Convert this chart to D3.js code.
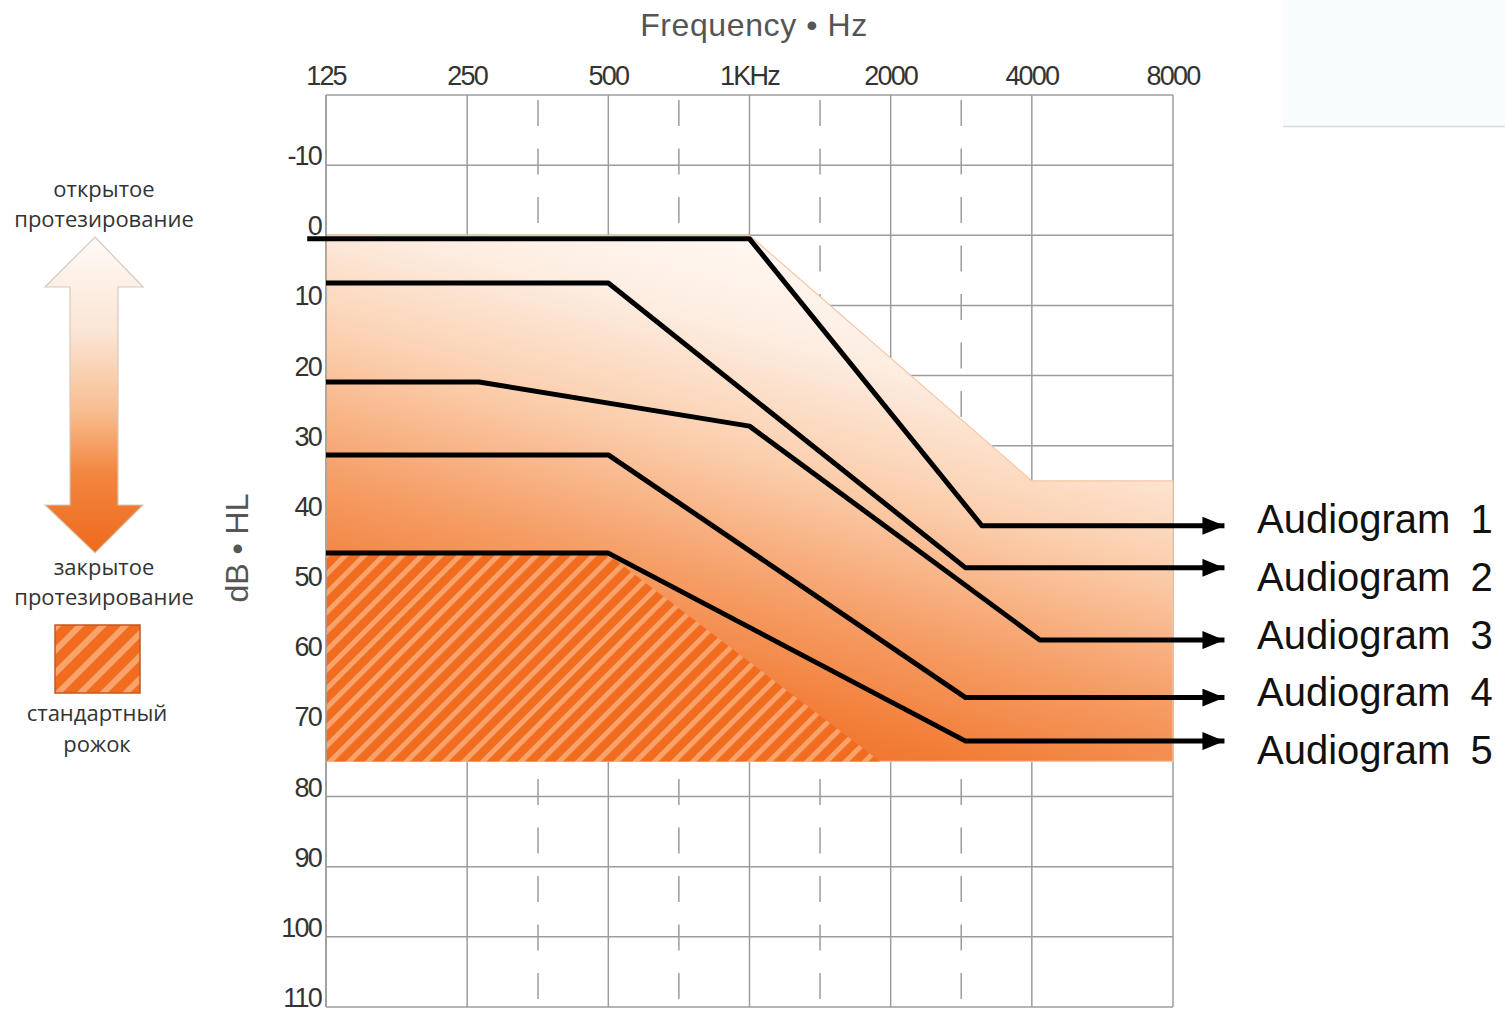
<!DOCTYPE html>
<html>
<head>
<meta charset="utf-8">
<script src="https://cdn.jsdelivr.net/npm/d3@7"></script>
<style>
  html, body { margin: 0; padding: 0; background: #fff; }
  svg { display: block; }
</style>
</head>
<body>
<svg id="chart" width="1505" height="1011"></svg>
<script>
// ── Data ────────────────────────────────────────────────────────────────
const freqTicks   = [125, 250, 500, 1000, 2000, 4000, 8000];
const freqLabels  = ['125', '250', '500', '1KHz', '2000', '4000', '8000'];
const halfOctaves = [354, 707, 1414, 2828];
const dbTicks     = [-10, 0, 10, 20, 30, 40, 50, 60, 70, 80, 90, 100, 110];

// open-fit region (gradient) and standard-earmold region (hatched)
const openTop  = [[125, 0], [1000, 0], [4000, 35], [8000, 35]];
const openBase = 75;
const hornTop  = [[125, 45.5], [500, 45.5], [1900, 75]];

// audiogram polylines [Hz, dB]; each ends with an arrow out to the label
const audiogram1 = [[114, 0.5], [1000, 0.5], [3130, 41.4]];
const audiogram2 = [[125, 6.8], [500, 6.8], [2890, 47.4]];
const audiogram3 = [[125, 20.9], [265, 20.9], [1000, 27.2], [4160, 57.7]];
const audiogram4 = [[125, 31.3], [500, 31.3], [2890, 65.9]];
const audiogram5 = [[125, 45.3], [500, 45.3], [2890, 72.1]];
const audiograms = [audiogram1, audiogram2, audiogram3, audiogram4, audiogram5];
const arrowFreq  = 10300;
const labelNames = ['Audiogram 1', 'Audiogram 2', 'Audiogram 3', 'Audiogram 4', 'Audiogram 5'];
const labelDb    = [40.4, 48.7, 56.9, 65.0, 73.3];

// ── Setup ───────────────────────────────────────────────────────────────
const svg = d3.select('#chart');
const x = d3.scaleLog().domain([125, 8000]).range([326, 1173]);
const y = d3.scaleLinear().domain([-20, 110]).range([95, 1007]);
const GRID = '#9c9c9c';
const defs = svg.append('defs');

// mostly vertical fade, a little lighter toward the right
const fillGrad = defs.append('linearGradient').attr('id', 'openGrad')
  .attr('gradientUnits', 'userSpaceOnUse')
  .attr('x1', x(1400)).attr('y1', y(0))
  .attr('x2', x(700)).attr('y2', y(75));
[[0, '#fffaf6'], [0.2, '#fdede1'], [0.42, '#fbcfae'], [0.65, '#f6a06a'], [0.85, '#f27e38'], [1, '#ef6b20']]
  .forEach(([o, c]) => fillGrad.append('stop').attr('offset', o).attr('stop-color', c));

const arrowGrad = defs.append('linearGradient').attr('id', 'arrowGrad')
  .attr('x1', 0).attr('y1', 0).attr('x2', 0).attr('y2', 1);
[[0, '#fefaf6'], [0.3, '#fbe5d5'], [0.55, '#f8bd90'], [0.75, '#f2863f'], [1, '#ee6a1c']]
  .forEach(([o, c]) => arrowGrad.append('stop').attr('offset', o).attr('stop-color', c));

function hatch(id, period, stripe) {
  const p = defs.append('pattern').attr('id', id)
    .attr('patternUnits', 'userSpaceOnUse')
    .attr('width', period).attr('height', period)
    .attr('patternTransform', 'rotate(45)');
  p.append('rect').attr('width', period).attr('height', period).attr('fill', '#f26c20');
  p.append('rect').attr('width', stripe).attr('height', period).attr('fill', '#f8a36c');
}
hatch('hornHatch', 13.5, 5);
hatch('swatchHatch', 16, 6);

defs.append('marker').attr('id', 'arrowHead')
  .attr('markerUnits', 'userSpaceOnUse')
  .attr('viewBox', '0 0 22 18').attr('refX', 22).attr('refY', 9)
  .attr('markerWidth', 22).attr('markerHeight', 18).attr('orient', 'auto')
  .append('path').attr('d', 'M0,0L22,9L0,18Z').attr('fill', '#000');

// faint box at top right
svg.append('rect').attr('x', 1283).attr('y', 0).attr('width', 222).attr('height', 126)
  .attr('fill', '#f8fcfc');
svg.append('line').attr('x1', 1283).attr('x2', 1505).attr('y1', 126.5).attr('y2', 126.5)
  .attr('stroke', '#d5dcdc').attr('stroke-width', 1.5);

// ── Grid ────────────────────────────────────────────────────────────────
const grid = svg.append('g');
grid.selectAll('.hline').data(d3.range(-20, 111, 10)).join('line')
  .attr('x1', x(125)).attr('x2', x(8000))
  .attr('y1', d => y(d)).attr('y2', d => y(d))
  .attr('stroke', GRID).attr('stroke-width', 1.5);
grid.selectAll('.vline').data(freqTicks).join('line')
  .attr('x1', d => x(d)).attr('x2', d => x(d))
  .attr('y1', y(-20)).attr('y2', y(110))
  .attr('stroke', GRID).attr('stroke-width', 1.5);
grid.selectAll('.dline').data(halfOctaves).join('line')
  .attr('x1', d => x(d)).attr('x2', d => x(d))
  .attr('y1', y(-19.3)).attr('y2', y(110))
  .attr('stroke', GRID).attr('stroke-width', 1.5)
  .attr('stroke-dasharray', '26,22.5');

// ── Regions ─────────────────────────────────────────────────────────────
const areaGen = d3.area().x(d => x(d[0])).y0(y(openBase)).y1(d => y(d[1]));
svg.append('path').datum(openTop).attr('d', areaGen)
  .attr('fill', 'url(#openGrad)').attr('stroke', '#f6c6a4').attr('stroke-width', 1.2);
svg.append('path').datum(hornTop).attr('d', areaGen)
  .attr('fill', 'url(#hornHatch)');

// left frame stays visible through the fill
svg.append('line').attr('x1', x(125)).attr('x2', x(125)).attr('y1', y(-20)).attr('y2', y(110))
  .attr('stroke', GRID).attr('stroke-width', 1.5);

// ── Audiograms ──────────────────────────────────────────────────────────
const lineGen = d3.line().x(d => x(d[0])).y(d => y(d[1]));
svg.append('g').selectAll('path').data(audiograms).join('path')
  .attr('d', d => lineGen([...d, [arrowFreq, d[d.length - 1][1]]]))
  .attr('fill', 'none').attr('stroke', '#000').attr('stroke-width', 5)
  .attr('stroke-linejoin', 'round')
  .attr('marker-end', 'url(#arrowHead)');

svg.append('g').selectAll('text').data(labelNames).join('text')
  .attr('x', 1257).attr('y', (d, i) => y(labelDb[i]))
  .attr('dy', '0.36em')
  .attr('font-family', 'Liberation Sans, Arial, sans-serif')
  .attr('font-size', 40).attr('word-spacing', 9).attr('fill', '#111')
  .text(d => d);

// ── Axes labels ─────────────────────────────────────────────────────────
const tickFont = 'Liberation Sans, Arial, sans-serif';
svg.append('g').selectAll('text').data(freqTicks).join('text')
  .attr('x', d => x(d)).attr('y', 85)
  .attr('text-anchor', 'middle')
  .attr('font-family', tickFont).attr('font-size', 27).attr('letter-spacing', -1.8)
  .attr('fill', '#333')
  .text((d, i) => freqLabels[i]);

svg.append('g').selectAll('text').data(dbTicks).join('text')
  .attr('x', 321).attr('y', d => y(d))
  .attr('text-anchor', 'end')
  .attr('font-family', tickFont).attr('font-size', 27).attr('letter-spacing', -1.8)
  .attr('fill', '#333')
  .text(d => d);

svg.append('text').attr('x', 754).attr('y', 36)
  .attr('text-anchor', 'middle')
  .attr('font-family', tickFont).attr('font-size', 32).attr('letter-spacing', 0.6)
  .attr('fill', '#555')
  .text('Frequency \u2022 Hz');

svg.append('text')
  .attr('transform', 'translate(248,548) rotate(-90)')
  .attr('text-anchor', 'middle')
  .attr('font-family', tickFont).attr('font-size', 32)
  .attr('fill', '#555')
  .text('dB \u2022 HL');

// ── Left legend ─────────────────────────────────────────────────────────
const legend = svg.append('g')
  .attr('font-family', 'Open Sans, Noto Sans, sans-serif')
  .attr('font-size', 22).attr('fill', '#333').attr('text-anchor', 'middle');
[['открытое', 197], ['протезирование', 227], ['закрытое', 575], ['протезирование', 605],
 ['стандартный', 721], ['рожок', 752]]
  .forEach(([t, ty], i) => legend.append('text')
    .attr('x', i >= 4 ? 97 : 104).attr('y', ty).text(t));

svg.append('path')
  .attr('d', 'M95,237 L143,287 L118,287 L118,505 L143,505 L95,553 L45,505 L70,505 L70,287 L45,287 Z')
  .attr('fill', 'url(#arrowGrad)').attr('stroke', '#d8c8bc').attr('stroke-width', 1.2);

svg.append('rect').attr('x', 55).attr('y', 625).attr('width', 85).attr('height', 68)
  .attr('fill', 'url(#swatchHatch)').attr('stroke', '#c4571e').attr('stroke-width', 1.5);
</script>
</body>
</html>
